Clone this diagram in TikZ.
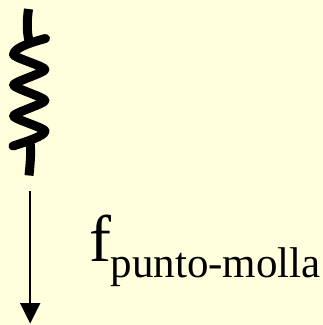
\documentclass[tikz,border=0pt]{standalone}
\usepackage{fontspec}
\setmainfont{Liberation Serif}
\definecolor{paper}{HTML}{FFFFDD}
\tikzset{
  spring/.style={line width=9pt,black,line join=round},
  force/.style={line width=1.8pt,black},
  forcehead/.style={fill=black,draw=none},
  bigtext/.style={inner sep=0pt,anchor=base west,font=\fontsize{66pt}{66pt}\selectfont},
  subtext/.style={inner sep=0pt,anchor=base west,font=\fontsize{43pt}{43pt}\selectfont}
}
\begin{document}
\begin{tikzpicture}[x=1pt,y=-1pt]
\useasboundingbox (0,0) rectangle (323,325);
\fill[paper] (0,0) rectangle (323,325);
% spring
\draw[spring] (28.5,9) .. controls (27,20) and (26.5,30) .. (29,41);
\draw[spring,line cap=round] (45.5,38.5) .. controls (36,41) and (14,47) .. (13.5,54.5)
  .. controls (13.5,57.5) and (45,66.5) .. (45,69.5)
  .. controls (45,72.5) and (13.5,82) .. (13.5,85)
  .. controls (13.5,88) and (45,97.5) .. (45,100.5)
  .. controls (45,103.5) and (13.5,113) .. (13.5,116)
  .. controls (13.5,119) and (45,128) .. (45,131)
  .. controls (45,136) and (25,142) .. (13,146);
\draw[spring] (30,142) .. controls (31.5,152) and (30,165) .. (29,175.5);
% force arrow
\coordinate (forcetop) at (29.7,191);
\coordinate (forcebase) at (29.7,304);
\coordinate (forcetip) at (30.2,323.5);
\draw[force] (forcetop) -- (forcebase);
\fill[forcehead] (20,303) -- (40.5,303) -- (forcetip) -- cycle;
% label
\node[bigtext] (fsym) at (89,261.5) {f};
\node[subtext] (fsub) at (110.5,277) {punto-molla};
\end{tikzpicture}
\end{document}
